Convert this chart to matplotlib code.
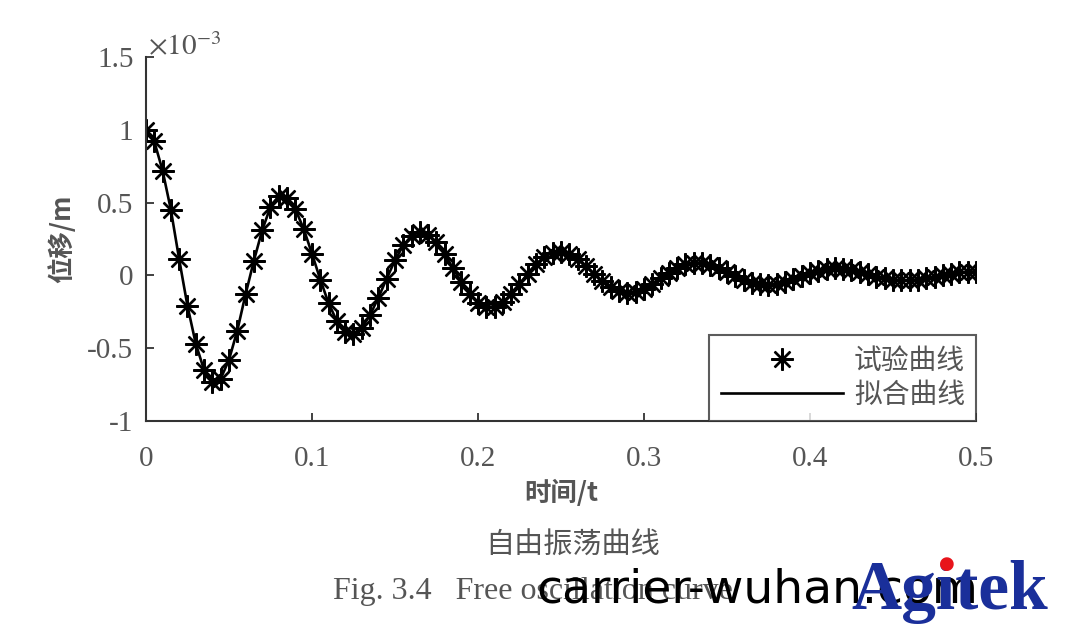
import matplotlib
matplotlib.use("Agg")
import matplotlib.pyplot as plt

# time in s, displacement in 1e-3 m (step 0.005 s)
time_s = [round(0.005 * k, 3) for k in range(101)]
disp_test = [
    1.000, 0.920, 0.720, 0.450, 0.110, -0.210, -0.470, -0.650, -0.730, -0.710,
    -0.580, -0.380, -0.130, 0.100, 0.310, 0.470, 0.545, 0.534, 0.454, 0.319,
    0.149, -0.029, -0.191, -0.315, -0.387, -0.402, -0.360, -0.272, -0.153, -0.022,
    0.103, 0.206, 0.273, 0.298, 0.280, 0.226, 0.144, 0.049, -0.047, -0.129,
    -0.188, -0.217, -0.214, -0.183, -0.128, -0.060, 0.012, 0.077, 0.127, 0.156,
    0.161, 0.145, 0.109, 0.062, 0.009, -0.042, -0.083, -0.109, -0.119, -0.112,
    -0.091, -0.058, -0.019, 0.019, 0.052, 0.075, 0.087, 0.086, 0.073, 0.051,
    0.024, -0.005, -0.031, -0.051, -0.062, -0.065, -0.058, -0.044, -0.025, -0.004,
    0.017, 0.033, 0.044, 0.048, 0.045, 0.036, 0.023, 0.008, -0.008, -0.021,
    -0.030, -0.035, -0.035, -0.029, -0.021, -0.010, 0.002, 0.012, 0.020, 0.025,
    0.026,
]
disp_fit = disp_test

x_ticks = [0, 0.1, 0.2, 0.3, 0.4, 0.5]
x_tick_labels = ["0", "0.1", "0.2", "0.3", "0.4", "0.5"]
y_ticks = [-1, -0.5, 0, 0.5, 1, 1.5]
y_tick_labels = ["-1", "-0.5", "0", "0.5", "1", "1.5"]

plt.rcParams["mathtext.fontset"] = "stix"
serif = ["Liberation Serif", "DejaVu Serif"]
cjk = ["Noto Sans CJK SC", "DejaVu Sans"]
grey = "#555555"

fig = plt.figure(figsize=(10.71, 6.33), dpi=100)
ax = fig.add_axes([0.1363, 0.335, 0.775, 0.575])

ax.plot(time_s, disp_test, linestyle="none", marker=(8, 2, 0), markersize=16,
        markeredgewidth=1.7, color="black", label="试验曲线")
ax.plot(time_s, disp_fit, "-", color="black", linewidth=1.9, label="拟合曲线")

ax.set_xlim(0, 0.5)
ax.set_ylim(-1, 1.5)
ax.set_xticks(x_ticks)
ax.set_xticklabels(x_tick_labels, fontfamily=serif, fontsize=21, color=grey)
ax.set_yticks(y_ticks)
ax.set_yticklabels(y_tick_labels, fontfamily=serif, fontsize=21, color=grey)
ax.tick_params(direction="in", length=6, width=1.3, color="#333333")
ax.tick_params(axis="y", pad=9)
ax.tick_params(axis="x", pad=18)

for side in ["top", "right"]:
    ax.spines[side].set_visible(False)
for side in ["left", "bottom"]:
    ax.spines[side].set_linewidth(1.5)
    ax.spines[side].set_color("#333333")

ax.set_xlabel("时间/t", fontfamily=cjk, fontsize=19, fontweight="bold", color=grey, labelpad=6)
ax.set_ylabel("位移/m", fontfamily=cjk, fontsize=19, fontweight="bold", color=grey, labelpad=8)
ax.text(0.001, 1.51, r"$\times10^{-3}$", fontsize=21, color=grey, ha="left", va="baseline")

leg = ax.legend(loc="lower right", bbox_to_anchor=(1.0, 0.0), borderaxespad=0,
                prop={"family": cjk, "size": 20}, frameon=True, fancybox=False,
                edgecolor="#333333", handlelength=4.4, borderpad=0.4, labelspacing=0.15,
                handletextpad=0.4, markerfirst=True)
leg.get_frame().set_linewidth(1.5)
for t in leg.get_texts():
    t.set_color(grey)

fig.text(0.535, 0.138, "自由振荡曲线", fontfamily=cjk, fontsize=21, color=grey, ha="center", va="center")
fig.text(0.311, 0.066, "Fig. 3.4   Free oscillation curve", fontfamily=serif, fontsize=23,
         color=grey, ha="left", va="center")
fig.text(0.501, 0.068, "carrier-wuhan.com", fontfamily=["DejaVu Sans"], fontsize=34,
         color="black", ha="left", va="center")
fig.text(0.795, 0.064, "Agitek", fontfamily=serif, fontsize=50, fontweight="bold",
         color="#1a2f9a", ha="left", va="center")
fig.text(0.884, 0.109, "●", fontfamily=["DejaVu Sans"], fontsize=13, color="#e8141b",
         ha="center", va="center")

fig.savefig("out.png", dpi=100)
